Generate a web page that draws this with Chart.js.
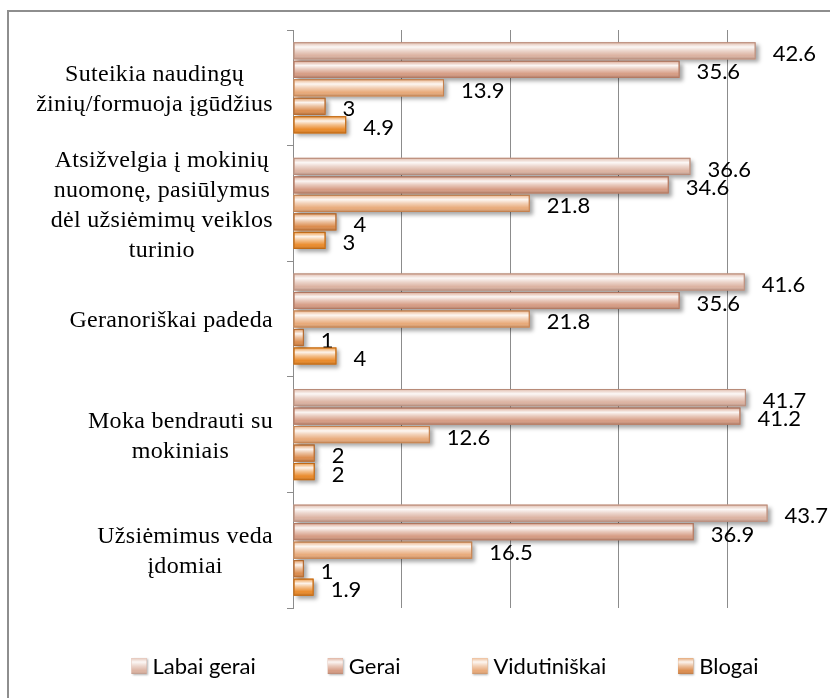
<!DOCTYPE html>
<html>
<head>
<meta charset="utf-8">
<script src="https://cdn.jsdelivr.net/npm/chart.js@4.4.0/dist/chart.umd.min.js"></script>
<style>
  html, body { margin: 0; padding: 0; background: #fff; overflow: hidden; }
  #frame { position: absolute; left: 7px; top: 10px; width: 900px; height: 720px; border: 2px solid #8e8e8e; }
  #wrap { position: absolute; left: 0; top: 0; width: 890px; height: 698px; }
</style>
</head>
<body>
<div id="frame"></div>
<div id="wrap"><canvas id="myChartBar"></canvas></div>
<script>
// categories (multi-line labels as in the original)
const categories = [
  ["Suteikia naudingų", "žinių/formuoja įgūdžius"],
  ["Atsižvelgia į mokinių", "nuomonę, pasiūlymus", "dėl užsiėmimų veiklos", "turinio"],
  ["Geranoriškai padeda"],
  ["Moka bendrauti su", "mokiniais"],
  ["Užsiėmimus veda", "įdomiai"],
];
const seriesNames = ["Labai gerai", "Gerai", "Vidutiniškai", "Blogai", "Nežino"];
const labaiGerai = [42.6, 36.6, 41.6, 41.7, 43.7];
const gerai = [35.6, 34.6, 35.6, 41.2, 36.9];
const vidutiniskai = [13.9, 21.8, 21.8, 12.6, 16.5];
const blogai = [3, 4, 1, 2, 1];
const nezino = [4.9, 3, 4, 2, 1.9];
const xTicks = [0, 10, 20, 30, 40, 50];

const seriesValues = [labaiGerai, gerai, vidutiniskai, blogai, nezino];
const barColors = ["#dcb3a2", "#d69c84", "#e8aa7a", "#dc8d4f", "#ea8b2c"];
const edgeColors = ["#b88b79", "#b07760", "#c4814f", "#b36a30", "#c06a16"];
const legendCount = 4; // last series has no legend entry in the original

function gloss(ctx, left, top, w, h, color) {
  ctx.fillStyle = color;
  ctx.fillRect(left, top, w, h);
  const g = ctx.createLinearGradient(0, top, 0, top + h);
  g.addColorStop(0, "rgba(255,255,255,0.25)");
  g.addColorStop(0.25, "rgba(255,255,255,0.9)");
  g.addColorStop(0.5, "rgba(255,255,255,0.45)");
  g.addColorStop(0.8, "rgba(255,255,255,0)");
  g.addColorStop(1, "rgba(0,0,0,0.15)");
  ctx.fillStyle = g;
  ctx.fillRect(left, top, w, h);
}

const excelLook = {
  id: "excelLook",
  beforeDatasetsDraw(chart) {
    const ctx = chart.ctx;
    ctx.save();
    ctx.shadowColor = "rgba(0,0,0,0.35)";
    ctx.shadowBlur = 4;
    ctx.shadowOffsetX = 3;
    ctx.shadowOffsetY = 3;
  },
  afterDatasetsDraw(chart) {
    const ctx = chart.ctx;
    ctx.restore();
    ctx.save();
    chart.data.datasets.forEach((ds, di) => {
      const meta = chart.getDatasetMeta(di);
      meta.data.forEach((el, i) => {
        const p = el.getProps(["x", "y", "base", "height"], true);
        const left = Math.min(p.base, p.x);
        const w = Math.abs(p.x - p.base);
        const top = p.y - p.height / 2;
        gloss(ctx, left + 1, top + 1, w - 2, p.height - 2, barColors[di]);
        ctx.strokeStyle = edgeColors[di];
        ctx.lineWidth = 1;
        ctx.strokeRect(left + 0.5, top + 0.5, w - 1, p.height - 1);
        // value label, outside end
        ctx.fillStyle = "#000";
        ctx.font = "22px Lato";
        ctx.textAlign = "left";
        ctx.textBaseline = "middle";
        ctx.fillText(String(ds.data[i]), p.x + 17, p.y + 3);
      });
    });
    ctx.restore();
  },
  afterDraw(chart) {
    const ctx = chart.ctx;
    const yScale = chart.scales.y;
    ctx.save();
    // category labels: block right-aligned, lines centered
    ctx.font = '24px "Liberation Serif"';
    ctx.letterSpacing = "0.3px";
    ctx.fillStyle = "#000";
    ctx.textAlign = "center";
    ctx.textBaseline = "middle";
    const lineH = 30;
    categories.forEach((lines, i) => {
      const yc = yScale.getPixelForValue(i);
      const blockW = Math.max(...lines.map(l => ctx.measureText(l).width));
      const cx = yScale.right - 20 - blockW / 2;
      lines.forEach((l, j) => {
        ctx.fillText(l, cx, yc + 2 + (j - (lines.length - 1) / 2) * lineH);
      });
    });
    ctx.letterSpacing = "0px";
    // legend
    ctx.font = "22px Lato";
    ctx.textAlign = "left";
    const boxW = 15, boxH = 16, gap = 6, itemGap = 72;
    const names = seriesNames.slice(0, legendCount);
    const widths = names.map(n => boxW + gap + ctx.measureText(n).width);
    const total = widths.reduce((a, b) => a + b, 0) + itemGap * (names.length - 1);
    let x = chart.width / 2 - total / 2;
    const ly = 666;
    names.forEach((n, k) => {
      ctx.save();
      ctx.shadowColor = "rgba(0,0,0,0.3)";
      ctx.shadowBlur = 2;
      ctx.shadowOffsetX = 1;
      ctx.shadowOffsetY = 1;
      ctx.fillStyle = barColors[k];
      ctx.fillRect(x, ly - boxH / 2, boxW, boxH);
      ctx.restore();
      gloss(ctx, x, ly - boxH / 2, boxW, boxH, barColors[k]);
      ctx.fillStyle = "#000";
      ctx.fillText(n, x + boxW + gap, ly + 1);
      x += widths[k] + itemGap;
    });
    ctx.restore();
  },
};

const canvas_bar = document.getElementById("myChartBar");
let myChart_bar = new Chart(canvas_bar, {
  type: "bar",
  data: {
    labels: categories,
    datasets: seriesValues.map((vals, i) => ({
      label: seriesNames[i],
      data: vals,
      backgroundColor: barColors[i],
      borderColor: edgeColors[i],
      borderWidth: 0,
      categoryPercentage: 0.8,
      barPercentage: 0.93,
    })),
  },
  options: {
    indexAxis: "y",
    responsive: true,
    maintainAspectRatio: false,
    animation: false,
    events: [],
    layout: { padding: { left: 0, right: 54, top: 30, bottom: 90 } },
    plugins: {
      legend: { display: false },
      tooltip: { enabled: false },
    },
    scales: {
      x: {
        min: xTicks[0],
        max: xTicks[xTicks.length - 1],
        ticks: { display: false, stepSize: xTicks[1] - xTicks[0] },
        grid: { color: "#8c8c8c", lineWidth: 1, drawTicks: false },
        border: { display: false },
        afterFit: (s) => { s.height = 0; },
      },
      y: {
        ticks: { display: false },
        grid: { drawOnChartArea: false, drawTicks: true, tickLength: 6, color: "#8c8c8c" },
        border: { display: true, color: "#8c8c8c", width: 1 },
        afterFit: (s) => { s.width = 293; },
      },
    },
  },
  plugins: [excelLook],
});
</script>
</body>
</html>
